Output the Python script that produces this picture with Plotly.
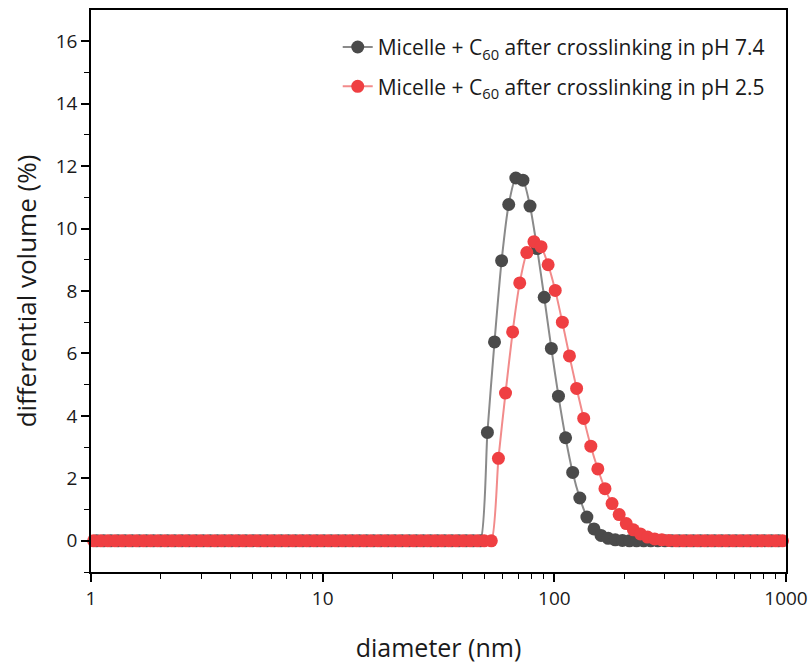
import plotly.graph_objects as go

# diameter bins (nm)
diam_74 = [1.059, 1.136, 1.219, 1.309, 1.404, 1.507, 1.617, 1.736, 1.863, 1.999,
           2.145, 2.302, 2.470, 2.651, 2.845, 3.053, 3.276, 3.516, 3.773, 4.049,
           4.345, 4.663, 5.004, 5.371, 5.763, 6.185, 6.637, 7.123, 7.644, 8.203,
           8.803, 9.447, 10.14, 10.88, 11.68, 12.53, 13.45, 14.43, 15.49, 16.62,
           17.83, 19.14, 20.54, 22.04, 23.65, 25.38, 27.24, 29.23, 31.37, 33.67,
           36.13, 38.77, 41.61, 44.65, 47.92, 51.42, 55.18, 59.22, 63.55, 68.20,
           73.19, 78.54, 84.29, 90.45, 97.07, 104.2, 111.8, 120.0, 128.8, 138.2,
           148.3, 159.1, 170.8, 183.2, 196.7, 211.0, 226.5, 243.0, 260.8, 279.9,
           300.4, 322.3, 345.9, 371.2, 398.4, 427.5, 458.8, 492.4, 528.4, 567.0,
           608.5, 653.0, 700.8, 752.1, 807.0, 866.1, 929.4]
vol_74 = [0, 0, 0, 0, 0, 0, 0, 0, 0, 0,
          0, 0, 0, 0, 0, 0, 0, 0, 0, 0,
          0, 0, 0, 0, 0, 0, 0, 0, 0, 0,
          0, 0, 0, 0, 0, 0, 0, 0, 0, 0,
          0, 0, 0, 0, 0, 0, 0, 0, 0, 0,
          0, 0, 0, 0, 0, 3.47, 6.37, 8.97, 10.77, 11.62,
          11.55, 10.72, 9.36, 7.80, 6.16, 4.63, 3.30, 2.19, 1.37, 0.76,
          0.38, 0.17, 0.08, 0.03, 0.01, 0, 0, 0, 0, 0,
          0, 0, 0, 0, 0, 0, 0, 0, 0, 0,
          0, 0, 0, 0, 0, 0, 0]

diam_25 = [1.026, 1.101, 1.181, 1.268, 1.360, 1.460, 1.567, 1.681, 1.804, 1.936,
           2.078, 2.230, 2.393, 2.568, 2.756, 2.958, 3.174, 3.406, 3.655, 3.923,
           4.210, 4.518, 4.848, 5.203, 5.583, 5.992, 6.430, 6.900, 7.405, 7.947,
           8.528, 9.152, 9.821, 10.54, 11.31, 12.14, 13.03, 13.98, 15.00, 16.10,
           17.28, 18.54, 19.90, 21.35, 22.91, 24.59, 26.39, 28.32, 30.39, 32.61,
           35.00, 37.56, 40.31, 43.25, 46.42, 49.81, 53.45, 57.37, 61.56, 66.07,
           70.90, 76.08, 81.65, 87.62, 94.03, 100.9, 108.3, 116.2, 124.8, 133.9,
           143.7, 154.1, 165.4, 177.5, 190.5, 204.4, 219.4, 235.4, 252.6, 271.1,
           291.0, 312.2, 335.1, 359.6, 385.9, 414.1, 444.5, 477.0, 511.9, 549.3,
           589.5, 632.6, 678.9, 728.6, 781.8, 839.0, 900.3, 966.1]
vol_25 = [0, 0, 0, 0, 0, 0, 0, 0, 0, 0,
          0, 0, 0, 0, 0, 0, 0, 0, 0, 0,
          0, 0, 0, 0, 0, 0, 0, 0, 0, 0,
          0, 0, 0, 0, 0, 0, 0, 0, 0, 0,
          0, 0, 0, 0, 0, 0, 0, 0, 0, 0,
          0, 0, 0, 0, 0, 0, 0, 2.64, 4.73, 6.69,
          8.26, 9.23, 9.58, 9.42, 8.84, 8.02, 7.00, 5.92, 4.88, 3.92,
          3.03, 2.30, 1.67, 1.19, 0.84, 0.55, 0.35, 0.22, 0.12, 0.06,
          0.03, 0.01, 0, 0, 0, 0, 0, 0, 0, 0,
          0, 0, 0, 0, 0, 0, 0, 0]

name_74 = "Micelle + C<sub>60</sub> after crosslinking in pH 7.4"
name_25 = "Micelle + C<sub>60</sub> after crosslinking in pH 2.5"

x_ticks = [1, 10, 100, 1000]
x_ticktext = ["1", "10", "100", "1000"]
x_minor = [2, 3, 4, 5, 6, 7, 8, 9, 20, 30, 40, 50, 60, 70, 80, 90,
           200, 300, 400, 500, 600, 700, 800, 900]
y_ticks = [0, 2, 4, 6, 8, 10, 12, 14, 16]
y_minor = [-1, 1, 3, 5, 7, 9, 11, 13, 15]

FONT = "Open Sans"
TXT = "#1a1a1a"

fig = go.Figure()
fig.add_trace(go.Scatter(
    x=diam_74, y=vol_74, name=name_74, mode="lines+markers",
    line=dict(color="#8a8a8a", width=2, shape="spline", smoothing=0.6),
    marker=dict(color="#4a4a4a", size=13, line=dict(width=0)),
    cliponaxis=False, legendgroup="a"))
fig.add_trace(go.Scatter(
    x=diam_25, y=vol_25, name=name_25, mode="lines+markers",
    line=dict(color="#f28b8b", width=2, shape="spline", smoothing=0.6),
    marker=dict(color="#ef3f42", size=13, line=dict(width=0)),
    cliponaxis=False, legendgroup="b"))

fig.update_layout(
    width=812, height=664,
    margin=dict(l=91, r=26, t=10, b=92),
    paper_bgcolor="white", plot_bgcolor="white",
    font=dict(family=FONT, color=TXT, size=19),
    showlegend=True,
    legend=dict(x=0.355, y=0.97, xanchor="left", yanchor="top",
                bgcolor="rgba(0,0,0,0)", font=dict(size=21, family=FONT, color=TXT),
                tracegroupgap=9, itemwidth=30),
    xaxis=dict(
        type="log", range=[0, 3], automargin=False,
        showline=True, linecolor="black", linewidth=1.5, mirror=True,
        ticks="outside", ticklen=8, tickwidth=1.5, tickcolor="black",
        tickvals=x_ticks, ticktext=x_ticktext,
        minor=dict(ticks="outside", ticklen=5, tickwidth=1.2, tickcolor="black",
                   tickvals=x_minor, showgrid=False),
        showgrid=False, zeroline=False,
        tickfont=dict(size=19, family=FONT, color=TXT),
        title=dict(text="diameter (nm)", font=dict(size=25, family=FONT, color=TXT),
                   standoff=36),
    ),
    yaxis=dict(
        range=[-1, 17], automargin=False,
        showline=True, linecolor="black", linewidth=1.5, mirror=True,
        ticks="outside", ticklen=8, tickwidth=1.5, tickcolor="black",
        tickvals=y_ticks,
        minor=dict(ticks="outside", ticklen=5, tickwidth=1.2, tickcolor="black",
                   tickvals=y_minor, showgrid=False),
        showgrid=False, zeroline=False,
        tickfont=dict(size=19, family=FONT, color=TXT),
        title=dict(text="differential volume (%)", font=dict(size=26, family=FONT, color=TXT),
                   standoff=12),
    ),
)

fig.write_html("out.html")
